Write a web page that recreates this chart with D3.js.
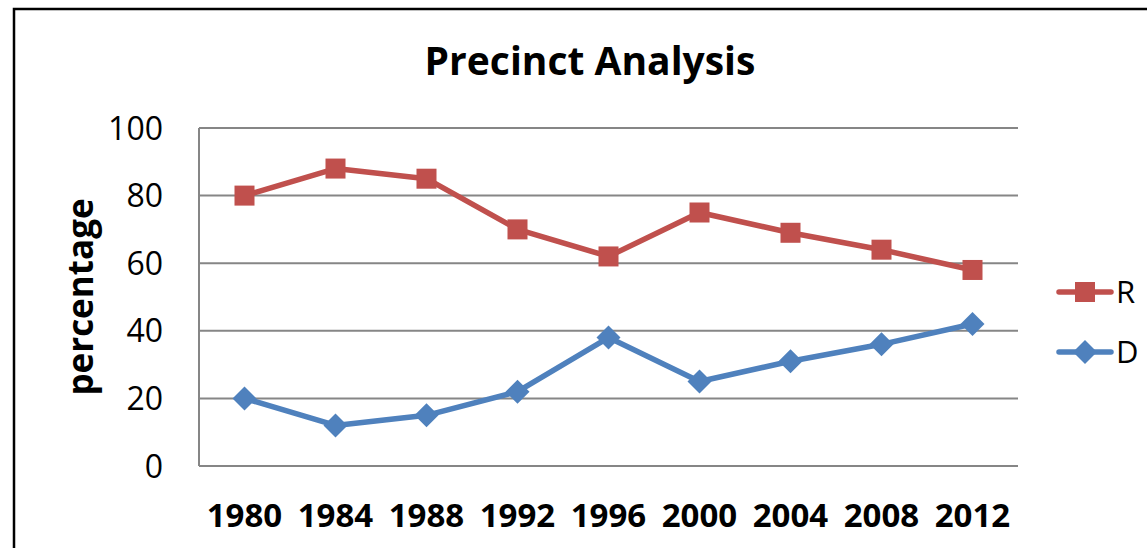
<!DOCTYPE html>
<html>
<head>
<meta charset="utf-8">
<script src="https://cdn.jsdelivr.net/npm/d3@7"></script>
<style>
  html, body { margin: 0; padding: 0; background: #fff; overflow: hidden; }
  svg { display: block; font-family: "Open Sans", "Liberation Sans", sans-serif; }
</style>
</head>
<body>
<div id="chart"></div>
<script>
const years = ['1980', '1984', '1988', '1992', '1996', '2000', '2004', '2008', '2012'];
const rValues = [80, 88, 85, 70, 62, 75, 69, 64, 58];
const dValues = [20, 12, 15, 22, 38, 25, 31, 36, 42];
const yTicks = [0, 20, 40, 60, 80, 100];

const series = [
  { name: 'R', values: rValues, color: '#C0504D', marker: 'square' },
  { name: 'D', values: dValues, color: '#4F81BD', marker: 'diamond' }
];

const width = 1147, height = 548;
const plot = { left: 199, right: 1018, top: 128, bottom: 466 };

const svg = d3.select('#chart').append('svg')
  .attr('width', width)
  .attr('height', height);

// outer chart border (runs off right and bottom edges)
svg.append('rect')
  .attr('x', 14).attr('y', 9)
  .attr('width', width + 20).attr('height', height + 20)
  .attr('fill', 'none')
  .attr('stroke', '#000')
  .attr('stroke-width', 2.5);

const x = d3.scalePoint().domain(years).range([plot.left, plot.right]).padding(0.5);
const y = d3.scaleLinear().domain([0, 100]).range([plot.bottom, plot.top]);

// gridlines
svg.append('g')
  .selectAll('line')
  .data(yTicks.filter(t => t > 0))
  .join('line')
  .attr('x1', plot.left).attr('x2', plot.right)
  .attr('y1', d => y(d)).attr('y2', d => y(d))
  .attr('stroke', '#868686')
  .attr('stroke-width', 2);

// axis lines
svg.append('line')
  .attr('x1', plot.left).attr('x2', plot.left)
  .attr('y1', plot.top).attr('y2', plot.bottom)
  .attr('stroke', '#868686').attr('stroke-width', 2);
svg.append('line')
  .attr('x1', plot.left).attr('x2', plot.right)
  .attr('y1', plot.bottom).attr('y2', plot.bottom)
  .attr('stroke', '#868686').attr('stroke-width', 2);

// y tick labels
svg.append('g')
  .selectAll('text')
  .data(yTicks)
  .join('text')
  .attr('x', 163)
  .attr('y', d => y(d))
  .attr('dy', '0.36em')
  .attr('text-anchor', 'end')
  .attr('font-size', 32)
  .attr('fill', '#000')
  .text(d => d);

// x tick labels
svg.append('g')
  .selectAll('text')
  .data(years)
  .join('text')
  .attr('x', d => x(d))
  .attr('y', 527)
  .attr('text-anchor', 'middle')
  .attr('font-size', 33)
  .attr('font-weight', 'bold')
  .attr('fill', '#000')
  .text(d => d);

// title
svg.append('text')
  .attr('x', 590).attr('y', 75)
  .attr('text-anchor', 'middle')
  .attr('font-size', 39)
  .attr('font-weight', 'bold')
  .text('Precinct Analysis');

// y axis title
svg.append('text')
  .attr('transform', 'translate(93,297) rotate(-90)')
  .attr('text-anchor', 'middle')
  .attr('font-size', 35)
  .attr('font-weight', 'bold')
  .text('percentage');

const line = d3.line()
  .x((d, i) => x(years[i]))
  .y(d => y(d));

function drawMarker(g, type, cx, cy, color) {
  if (type === 'square') {
    g.append('rect')
      .attr('x', cx - 10).attr('y', cy - 10)
      .attr('width', 20).attr('height', 20)
      .attr('fill', color);
  } else {
    const r = 12;
    g.append('path')
      .attr('d', `M${cx},${cy - r}L${cx + r},${cy}L${cx},${cy + r}L${cx - r},${cy}Z`)
      .attr('fill', color);
  }
}

series.forEach(s => {
  const g = svg.append('g');
  g.append('path')
    .datum(s.values)
    .attr('d', line)
    .attr('fill', 'none')
    .attr('stroke', s.color)
    .attr('stroke-width', 5.5)
    .attr('stroke-linejoin', 'round');
  s.values.forEach((v, i) => drawMarker(g, s.marker, x(years[i]), y(v), s.color));
});

// legend
const legendY = [292, 352];
series.forEach((s, i) => {
  const g = svg.append('g');
  const ly = legendY[i];
  g.append('line')
    .attr('x1', 1059).attr('x2', 1111)
    .attr('y1', ly).attr('y2', ly)
    .attr('stroke', s.color)
    .attr('stroke-width', 5.5)
    .attr('stroke-linecap', 'round');
  drawMarker(g, s.marker, 1085, ly, s.color);
  g.append('text')
    .attr('x', 1116).attr('y', ly)
    .attr('dy', '0.36em')
    .attr('font-size', 31)
    .text(s.name);
});
</script>
</body>
</html>
